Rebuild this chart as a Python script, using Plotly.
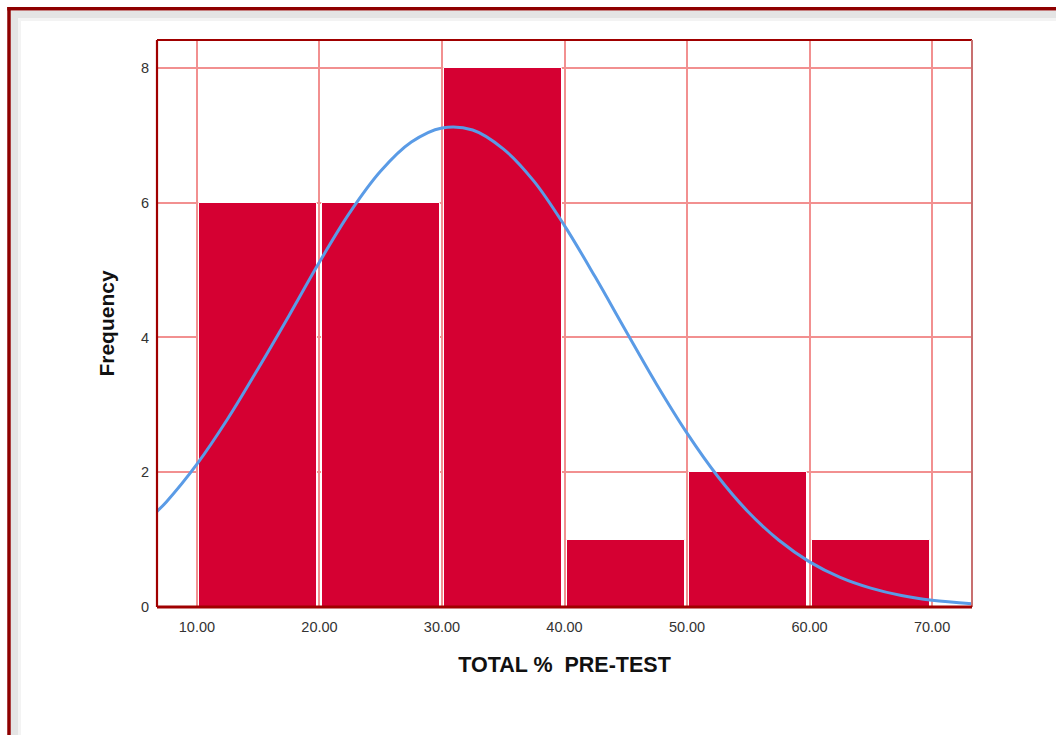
import plotly.graph_objects as go

# ---- data ----
bin_centers = [15, 25, 35, 45, 55, 65]
frequencies = [6, 6, 8, 1, 2, 1]
curve_x = [6.74, 7.5, 10, 12.5, 15, 17.5, 20, 22.5, 25, 27.5, 30, 32.5, 35, 37.5, 40,
           42.5, 45, 47.5, 50, 52.5, 55, 57.5, 60, 62.5, 65, 67.5, 70, 73.26]
curve_y = [1.42, 1.56, 2.12, 2.79, 3.54, 4.32, 5.12, 5.86, 6.47, 6.9, 7.11, 7.08, 6.8, 6.32, 5.66,
           4.9, 4.1, 3.31, 2.58, 1.94, 1.41, 0.99, 0.67, 0.44, 0.28, 0.17, 0.1, 0.05]
x_tickvals = [10, 20, 30, 40, 50, 60, 70]
x_ticktext = ["10.00", "20.00", "30.00", "40.00", "50.00", "60.00", "70.00"]
y_tickvals = [0, 2, 4, 6, 8]
y_ticktext = ["0", "2", "4", "6", "8"]

W, H = 1056, 735
L, R, T, B = 157, 84, 40, 128
PW, PH = W - L - R, H - T - B


def px(xp):
    return (xp - L) / PW


def py(yp):
    return (H - B - yp) / PH


fig = go.Figure()
fig.add_trace(go.Bar(
    x=bin_centers, y=frequencies, width=9.65,
    marker=dict(color="#D50032", line=dict(color="white", width=1)),
    hoverinfo="x+y", showlegend=False,
))
fig.add_trace(go.Scatter(
    x=curve_x, y=curve_y, mode="lines",
    line=dict(color="#5A9BE6", width=3, shape="spline", smoothing=1.0),
    showlegend=False,
))

DARK = "#A00000"
shapes = [
    # outer frame shading
    dict(type="rect", xref="paper", yref="paper", x0=px(11), x1=px(18), y0=py(H + 5), y1=py(11),
         fillcolor="#E4E4E4", line=dict(width=0), layer="below"),
    dict(type="rect", xref="paper", yref="paper", x0=px(11), x1=px(W + 5), y0=py(18), y1=py(11),
         fillcolor="#E4E4E4", line=dict(width=0), layer="below"),
    dict(type="rect", xref="paper", yref="paper", x0=px(18), x1=px(21), y0=py(H + 5), y1=py(18),
         fillcolor="#F3F3F3", line=dict(width=0), layer="below"),
    dict(type="rect", xref="paper", yref="paper", x0=px(18), x1=px(W + 5), y0=py(21), y1=py(18),
         fillcolor="#F3F3F3", line=dict(width=0), layer="below"),
    # outer frame red lines
    dict(type="line", xref="paper", yref="paper", x0=px(9), x1=px(9), y0=py(H + 5), y1=py(7),
         line=dict(color="#8E0000", width=3.5)),
    dict(type="line", xref="paper", yref="paper", x0=px(7.3), x1=px(W + 5), y0=py(8.7), y1=py(8.7),
         line=dict(color="#8E0000", width=3.5)),
    # plot border
    dict(type="line", xref="paper", yref="paper", x0=0, x1=1, y0=1, y1=1,
         line=dict(color=DARK, width=2.2)),
    dict(type="line", xref="paper", yref="paper", x0=1, x1=1, y0=0, y1=1,
         line=dict(color="#C87070", width=2)),
    dict(type="line", xref="paper", yref="paper", x0=0, x1=0, y0=0, y1=1,
         line=dict(color=DARK, width=2.2)),
    dict(type="line", xref="paper", yref="paper", x0=0, x1=1, y0=0, y1=0,
         line=dict(color=DARK, width=3)),
]

fig.update_layout(
    width=W, height=H,
    margin=dict(l=L, r=R, t=T, b=B, autoexpand=False),
    paper_bgcolor="white", plot_bgcolor="white",
    font=dict(family="Liberation Sans, Arial, sans-serif", color="#333333"),
    bargap=0,
    shapes=shapes,
    xaxis=dict(
        range=[6.74, 73.26], tickvals=x_tickvals, ticktext=x_ticktext,
        showgrid=True, gridcolor="#F29090", gridwidth=1.5,
        zeroline=False, showline=False, ticks="", ticklabelstandoff=9,
        tickfont=dict(size=14.5, color="#333333"),
        title=dict(text="<b>TOTAL %\u00a0 PRE-TEST</b>", standoff=23,
                   font=dict(size=21.5, color="#111111")),
    ),
    yaxis=dict(
        range=[0, 8.415], tickvals=y_tickvals, ticktext=y_ticktext,
        showgrid=True, gridcolor="#F29090", gridwidth=1.5,
        zeroline=False, showline=False, ticks="", ticklabelstandoff=7,
        tickfont=dict(size=14.5, color="#333333"),
        title=dict(text="<b>Frequency</b>", standoff=20,
                   font=dict(size=21, color="#111111")),
    ),
)

fig.write_html("out.html")
